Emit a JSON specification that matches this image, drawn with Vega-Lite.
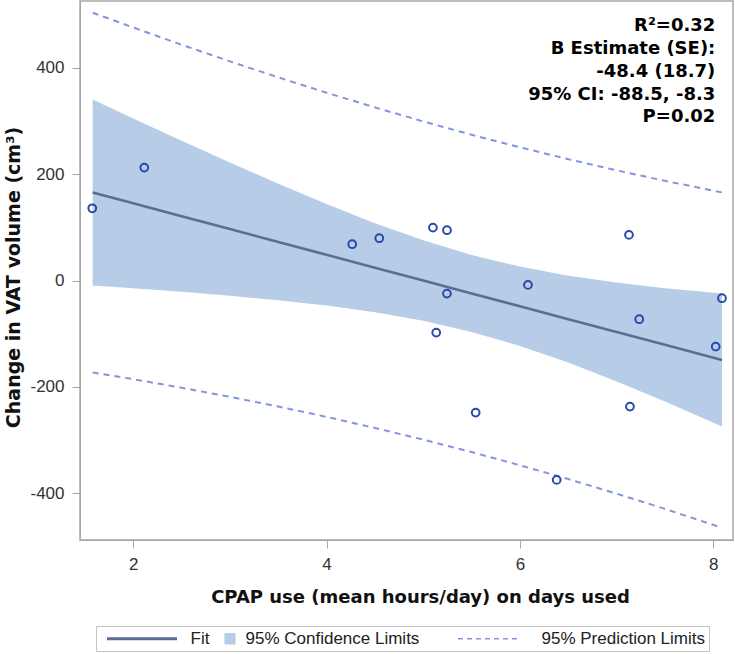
{
  "$schema": "https://vega.github.io/schema/vega-lite/v6.json",
  "width": 653,
  "height": 539,
  "autosize": {"type": "none"},
  "padding": {"left": 80, "top": 1, "right": 2, "bottom": 114},
  "background": "white",
  "datasets": {
    "band": [
      {"x": 1.58, "fit": 165.6, "lcl": -9.4, "ucl": 340.6, "lpl": -172.8, "upl": 504.0},
      {"x": 2.0, "fit": 145.3, "lcl": -14.5, "ucl": 305.1, "lpl": -185.5, "upl": 476.1},
      {"x": 2.5, "fit": 121.1, "lcl": -21.1, "ucl": 263.3, "lpl": -201.5, "upl": 443.7},
      {"x": 3.0, "fit": 96.9, "lcl": -28.4, "ucl": 222.2, "lpl": -218.7, "upl": 412.5},
      {"x": 3.5, "fit": 72.7, "lcl": -36.9, "ucl": 182.3, "lpl": -236.9, "upl": 382.3},
      {"x": 4.0, "fit": 48.5, "lcl": -46.9, "ucl": 143.9, "lpl": -256.4, "upl": 353.4},
      {"x": 4.5, "fit": 24.3, "lcl": -59.5, "ucl": 108.1, "lpl": -277.2, "upl": 325.8},
      {"x": 5.0, "fit": 0.1, "lcl": -75.6, "ucl": 75.8, "lpl": -299.2, "upl": 299.4},
      {"x": 5.5, "fit": -24.1, "lcl": -96.5, "ucl": 48.3, "lpl": -322.6, "upl": 274.4},
      {"x": 6.0, "fit": -48.3, "lcl": -122.9, "ucl": 26.3, "lpl": -347.4, "upl": 250.8},
      {"x": 6.5, "fit": -72.5, "lcl": -154.3, "ucl": 9.3, "lpl": -373.4, "upl": 228.4},
      {"x": 7.0, "fit": -96.7, "lcl": -189.6, "ucl": -3.8, "lpl": -400.8, "upl": 207.4},
      {"x": 7.5, "fit": -120.9, "lcl": -227.5, "ucl": -14.3, "lpl": -429.5, "upl": 187.7},
      {"x": 8.09, "fit": -149.5, "lcl": -274.5, "ucl": -24.5, "lpl": -465.0, "upl": 165.9}
    ],
    "points": [
      {"hours": 1.576, "change": 136},
      {"hours": 2.114, "change": 212.6},
      {"hours": 4.265, "change": 68.5},
      {"hours": 4.545, "change": 79.8},
      {"hours": 5.100, "change": 99.7},
      {"hours": 5.245, "change": 94.8},
      {"hours": 5.245, "change": -24.5},
      {"hours": 5.134, "change": -97.8},
      {"hours": 6.083, "change": -8.1},
      {"hours": 5.542, "change": -248.3},
      {"hours": 6.380, "change": -374.9},
      {"hours": 7.234, "change": -72.6},
      {"hours": 7.138, "change": -237.0},
      {"hours": 8.025, "change": -124.2},
      {"hours": 8.090, "change": -33.1},
      {"hours": 7.128, "change": 86.0}
    ]
  },
  "layer": [
    {
      "data": {"name": "band"},
      "mark": {"type": "area", "opacity": 1},
      "encoding": {
        "x": {
          "field": "x", "type": "quantitative",
          "scale": {"domain": [1.449, 8.204], "nice": false, "zero": false},
          "axis": {
            "title": "CPAP use (mean hours/day) on days used",
            "values": [2, 4, 6, 8],
            "labelExpr": "datum.value + ''",
            "labelPadding": 8,
            "titleX": 340,
            "titleY": 48,
            "titleBaseline": "top"
          }
        },
        "y": {
          "field": "lcl", "type": "quantitative",
          "scale": {"domain": [-488, 526], "nice": false, "zero": false},
          "axis": {
            "title": "Change in VAT volume (cm³)",
            "values": [-400, -200, 0, 200, 400],
            "labelExpr": "datum.value + ''",
            "labelPadding": 8,
            "titleFontSize": 19,
            "titleX": -57,
            "titleY": 276
          }
        },
        "y2": {"field": "ucl"},
        "color": {
          "datum": "95% Confidence Limits",
          "scale": {
            "domain": ["Fit", "95% Confidence Limits", "95% Prediction Limits"],
            "range": ["#5b6d95", "#b7cce6", "#8594dd"]
          },
          "legend": {
            "title": null,
            "orient": "none",
            "legendX": 16,
            "legendY": 625,
            "direction": "horizontal",
            "strokeColor": "#c4c4c4",
            "fillColor": "white",
            "padding": 4,
            "columnPadding": 12,
            "labelOffset": {"expr": "datum.value === 'Fit' ? 40 : (datum.value === '95% Confidence Limits' ? 7 : 44)"},
            "symbolOffset": {"expr": "datum.value === 'Fit' ? 33.5 : (datum.value === '95% Confidence Limits' ? -3.5 : 48.5)"},
            "labelLimit": 400,
            "labelFont": "Liberation Sans",
            "labelFontSize": 17,
            "labelColor": "#222222",
            "symbolType": {"expr": "datum.value === '95% Confidence Limits' ? 'square' : 'stroke'"},
            "symbolSize": {"expr": "datum.value === '95% Confidence Limits' ? 100 : (datum.value === 'Fit' ? 4900 : 3844)"},
            "symbolStrokeWidth": {"expr": "datum.value === 'Fit' ? 3 : 1.3"},
            "symbolFillColor": {"expr": "datum.value === '95% Confidence Limits' ? '#b7cce6' : 'transparent'"},
            "symbolStrokeColor": {"expr": "datum.value === 'Fit' ? '#5b6d95' : (datum.value === '95% Confidence Limits' ? '#333333' : '#8594dd')"},
            "symbolDash": {"expr": "datum.value === '95% Prediction Limits' ? [5, 4] : [1, 0]"},
            "symbolOpacity": 1
          }
        }
      }
    },
    {
      "data": {"name": "band"},
      "transform": [{"fold": ["lpl", "upl"], "as": ["limit", "value"]}],
      "mark": {"type": "line", "strokeWidth": 2, "strokeDash": [6, 5]},
      "encoding": {
        "x": {"field": "x", "type": "quantitative"},
        "y": {"field": "value", "type": "quantitative"},
        "detail": {"field": "limit"},
        "color": {"datum": "95% Prediction Limits"}
      }
    },
    {
      "data": {"name": "band"},
      "mark": {"type": "line", "strokeWidth": 2.6},
      "encoding": {
        "x": {"field": "x", "type": "quantitative"},
        "y": {"field": "fit", "type": "quantitative"},
        "color": {"datum": "Fit"}
      }
    },
    {
      "data": {"name": "points"},
      "mark": {"type": "point", "shape": "circle", "filled": false, "size": 60, "strokeWidth": 2, "color": "#2748ad", "opacity": 1},
      "encoding": {
        "x": {"field": "hours", "type": "quantitative"},
        "y": {"field": "change", "type": "quantitative"}
      }
    },
    {
      "data": {"values": [{"label": "stats"}]},
      "mark": {
        "type": "text",
        "text": ["R²=0.32", "B Estimate (SE):", "-48.4 (18.7)", "95% CI: -88.5, -8.3", "P=0.02"],
        "align": "right",
        "baseline": "alphabetic",
        "font": "DejaVu Sans",
        "fontWeight": "bold",
        "fontSize": 18,
        "lineHeight": 22.75,
        "color": "#000000"
      },
      "encoding": {
        "x": {"datum": 8.021, "type": "quantitative"},
        "y": {"datum": 469, "type": "quantitative"}
      }
    }
  ],
  "config": {
    "view": {"stroke": "#a6a6a6", "strokeWidth": 1.5},
    "axis": {
      "grid": false,
      "domainColor": "#a6a6a6",
      "tickColor": "#a6a6a6",
      "tickSize": 8,
      "labelFont": "Liberation Sans",
      "labelFontSize": 17,
      "labelColor": "#333333",
      "titleFont": "DejaVu Sans",
      "titleFontWeight": "bold",
      "titleFontSize": 18,
      "titleColor": "#111111"
    }
  }
}
